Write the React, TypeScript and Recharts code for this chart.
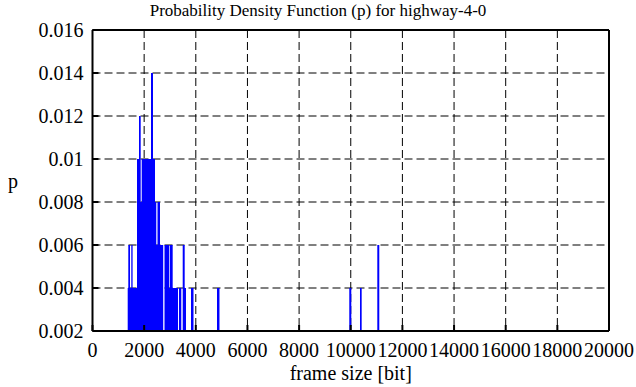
import React from 'react';
import { ComposedChart, Area, XAxis, YAxis, CartesianGrid } from 'recharts';

const frameSize = [1363, 1386, 1452, 1502, 1553, 1723, 1800, 1866, 1905, 2265, 2343, 2420, 2470, 2517, 2614, 2738, 2788, 2974, 3001, 3105, 3311, 3349, 3438, 3493, 3570, 3620, 3814, 3911, 4821, 4917, 9943, 10021, 10358, 10423, 11028, 11105];
const density = [0.004, 0.006, 0.004, 0.006, 0.004, 0.01, 0.012, 0.008, 0.01, 0.014, 0.01, 0.008, 0.006, 0.008, 0.006, 0.002, 0.006, 0.004, 0.006, 0.004, 0.002, 0.004, 0.002, 0.006, 0.004, 0.002, 0.004, 0.002, 0.004, 0.002, 0.004, 0.002, 0.004, 0.002, 0.006, 0.002];

const xTicks = [0, 2000, 4000, 6000, 8000, 10000, 12000, 14000, 16000, 18000, 20000];
const yTicks = [0.002, 0.004, 0.006, 0.008, 0.01, 0.012, 0.014, 0.016];

const title = 'Probability Density Function (p) for highway-4-0';
const xLabel = 'frame size [bit]';
const yLabel = 'p';

const data = frameSize.map((x, i) => ({ x, p: density[i] }));

const FONT = "'Liberation Serif', 'Times New Roman', serif";
const lineStyle = { stroke: '#000', strokeWidth: 2 };
const css = `.recharts-wrapper text, .recharts-text { font-family: 'Liberation Serif', 'Times New Roman', serif !important; }`;

export default function App() {
  return (
    <div style={{ position: 'absolute', left: 0, top: 0, width: 636, height: 387, background: '#fff', fontFamily: FONT }}>
      <style>{css}</style>
      <div
        style={{
          position: 'absolute',
          left: 0,
          top: 0,
          width: 636,
          textAlign: 'center',
          fontFamily: FONT,
          fontSize: 17,
          lineHeight: '20px',
          color: '#000',
          paddingTop: 1,
        }}
      >
        {title}
      </div>
      <ComposedChart
        width={636}
        height={387}
        data={data}
        margin={{ top: 0, right: 0, bottom: 0, left: 0 }}
      >
        <CartesianGrid stroke="#000" strokeWidth={1} strokeDasharray="8 4" />
        <XAxis
          dataKey="x"
          type="number"
          domain={[0, 20000]}
          ticks={xTicks}
          allowDataOverflow
          height={56}
          axisLine={lineStyle}
          tickLine={lineStyle}
          tickSize={-6}
          tickMargin={18}
          tick={{ fill: '#000', fontSize: 20, fontFamily: FONT }}
          interval={0}
          label={{ value: xLabel, position: 'insideBottom', offset: 7, fill: '#000', fontSize: 20, fontFamily: FONT }}
        />
        <XAxis
          xAxisId="top"
          orientation="top"
          type="number"
          domain={[0, 20000]}
          ticks={xTicks}
          allowDataOverflow
          height={30}
          axisLine={lineStyle}
          tickLine={lineStyle}
          tickSize={-6}
          tick={false}
        />
        <YAxis
          type="number"
          domain={[0.002, 0.016]}
          ticks={yTicks}
          allowDataOverflow
          width={92.5}
          axisLine={lineStyle}
          tickLine={lineStyle}
          tickSize={-6}
          tickMargin={15}
          interval={0}
          tickFormatter={(v: number) => String(Number(v.toFixed(3)))}
          tick={{ fill: '#000', fontSize: 20, fontFamily: FONT }}
          label={{ value: yLabel, position: 'insideLeft', offset: 8, fill: '#000', fontSize: 20, fontFamily: FONT }}
        />
        <YAxis
          yAxisId="right"
          orientation="right"
          type="number"
          domain={[0.002, 0.016]}
          ticks={yTicks}
          allowDataOverflow
          width={27}
          axisLine={lineStyle}
          tickLine={lineStyle}
          tickSize={-6}
          tick={false}
        />
        <Area
          type="stepAfter"
          dataKey="p"
          baseValue="dataMin"
          stroke="none"
          fill="#0000ff"
          fillOpacity={1}
          isAnimationActive={false}
          dot={false}
          activeDot={false}
        />
      </ComposedChart>
    </div>
  );
}
